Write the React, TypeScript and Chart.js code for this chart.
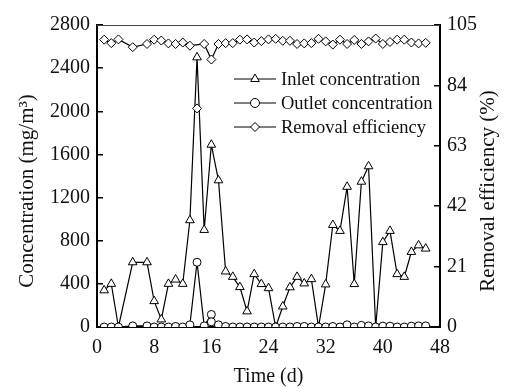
import React, { useEffect, useRef } from 'react';
import { Chart, registerables } from 'chart.js';

Chart.register(...registerables);

const FONT = "'Liberation Serif', 'Times New Roman', serif";

const xTicks = [0, 8, 16, 24, 32, 40, 48];
const concTicks = [0, 400, 800, 1200, 1600, 2000, 2400, 2800];
const effTicks = [0, 21, 42, 63, 84, 105];

const inletDays = [1, 2, 3, 5, 7, 8, 9, 10, 11, 12, 13, 14, 15, 16, 17, 18, 19, 20, 21, 22, 23, 24, 25, 26, 27, 28, 29, 30, 31, 32, 33, 34, 35, 36, 37, 38, 39, 40, 41, 42, 43, 44, 45, 46];
const inletValues = [340, 400, 0, 600, 600, 240, 70, 400, 440, 400, 990, 2500, 900, 1690, 1360, 515, 465, 370, 145, 490, 398, 360, 0, 190, 368, 465, 404, 444, 0, 395, 946, 891, 1300, 398, 1347, 1490, 0, 787, 891, 490, 465, 696, 757, 727];

const outletDays = [1, 2, 3, 5, 7, 8, 9, 10, 11, 12, 13, 14, 15, 16, 16, 17, 18, 19, 20, 21, 22, 23, 24, 25, 26, 27, 28, 29, 30, 31, 32, 33, 34, 35, 36, 37, 38, 39, 40, 41, 42, 43, 44, 45, 46];
const outletValues = [0, 0, 0, 10, 10, 0, 0, 0, 5, 0, 20, 600, 10, 116, 48, 20, 5, 0, 0, 0, 0, 0, 0, 0, 0, 0, 5, 5, 0, 0, 0, 5, 0, 20, 0, 15, 10, 0, 8, 8, 0, 0, 8, 10, 10];

const effDays = [1, 2, 3, 5, 7, 8, 9, 10, 11, 12, 13, 15, 16, 17, 18, 19, 20, 21, 22, 23, 24, 25, 26, 27, 28, 29, 30, 31, 32, 33, 34, 35, 36, 37, 38, 39, 40, 41, 42, 43, 44, 45, 46];
const effValues = [99.9, 98.7, 100, 97.3, 98.4, 99.9, 99.6, 98.6, 98.4, 98.9, 97.8, 98.4, 93.0, 98.4, 98.7, 98.7, 99.9, 100, 98.9, 99.4, 100, 100.2, 99.5, 99.5, 98.4, 98.6, 98.7, 100.2, 99.3, 98.2, 99.9, 98.4, 99.8, 98.4, 99.3, 100.3, 98.4, 99.1, 99.9, 99.9, 98.9, 98.6, 98.8];

const effIsolatedDays = [14];
const effIsolatedValues = [76];

const legendLabels = ['Inlet concentration', 'Outlet concentration', 'Removal efficiency'];
const legendMarkers = ['triangle', 'circle', 'rectRot'];
const xTitle = 'Time (d)';
const leftTitle = 'Concentration (mg/m³)';
const rightTitle = 'Removal efficiency (%)';

function toPoints(xs: number[], ys: number[]) {
  return xs.map((x, i) => ({ x, y: ys[i] }));
}

function drawMarker(ctx: CanvasRenderingContext2D, style: string, x: number, y: number, r: number) {
  ctx.beginPath();
  if (style === 'triangle') {
    for (let k = 0; k < 3; k++) {
      const a = (k * 2 * Math.PI) / 3;
      const px = x + Math.sin(a) * r;
      const py = y - Math.cos(a) * r;
      if (k === 0) ctx.moveTo(px, py);
      else ctx.lineTo(px, py);
    }
    ctx.closePath();
  } else if (style === 'circle') {
    ctx.arc(x, y, r, 0, Math.PI * 2);
  } else {
    ctx.moveTo(x, y - r);
    ctx.lineTo(x + r, y);
    ctx.lineTo(x, y + r);
    ctx.lineTo(x - r, y);
    ctx.closePath();
  }
  ctx.fillStyle = '#fff';
  ctx.fill();
  ctx.strokeStyle = '#000';
  ctx.lineWidth = 1;
  ctx.stroke();
}

function drawVerticalTitle(ctx: CanvasRenderingContext2D, text: string, x: number, y: number) {
  ctx.save();
  ctx.translate(x, y);
  ctx.rotate(-Math.PI / 2);
  ctx.fillStyle = '#111';
  ctx.font = `21px ${FONT}`;
  ctx.textAlign = 'center';
  ctx.textBaseline = 'middle';
  ctx.fillText(text, 0, 0);
  ctx.restore();
}

const framePlugin = {
  id: 'frameAndLegend',
  afterDraw(chart: any) {
    const { ctx, chartArea } = chart;
    ctx.save();
    ctx.strokeStyle = '#444';
    ctx.lineWidth = 1;
    ctx.beginPath();
    ctx.moveTo(chartArea.left, chartArea.top + 0.5);
    ctx.lineTo(chartArea.right, chartArea.top + 0.5);
    ctx.stroke();

    const radii = [5, 4.5, 4.5];
    legendLabels.forEach((label, i) => {
      const y = 79 + i * 24;
      ctx.strokeStyle = '#000';
      ctx.lineWidth = 1.2;
      ctx.beginPath();
      ctx.moveTo(234, y);
      ctx.lineTo(276, y);
      ctx.stroke();
      drawMarker(ctx, legendMarkers[i], 255, y, radii[i]);
      ctx.fillStyle = '#111';
      ctx.font = `18.5px ${FONT}`;
      ctx.textAlign = 'left';
      ctx.textBaseline = 'middle';
      ctx.fillText(label, 281, y + 1);
    });
    ctx.restore();

    const cy = (chartArea.top + chartArea.bottom) / 2 + 15;
    drawVerticalTitle(ctx, leftTitle, 27, cy);
    drawVerticalTitle(ctx, rightTitle, 488, cy);
  },
};

export default function App() {
  const canvasRef = useRef<HTMLCanvasElement | null>(null);

  useEffect(() => {
    document.body.style.margin = '0';
    const canvas = canvasRef.current;
    if (!canvas) return;

    const lineCommon = {
      borderColor: '#000',
      borderWidth: 1.2,
      pointBackgroundColor: '#fff',
      pointBorderColor: '#000',
      pointBorderWidth: 1,
      tension: 0,
      fill: false,
    };

    const tickFont = { family: FONT, size: 20 };

    const chart = new Chart(canvas, {
      type: 'line',
      data: {
        datasets: [
          {
            ...lineCommon,
            label: legendLabels[2],
            data: toPoints(effDays, effValues),
            yAxisID: 'y1',
            pointStyle: 'rectRot',
            pointRadius: 4.5,
          },
          {
            ...lineCommon,
            label: legendLabels[2] + ' (day 14)',
            data: toPoints(effIsolatedDays, effIsolatedValues),
            yAxisID: 'y1',
            showLine: false,
            pointStyle: 'rectRot',
            pointRadius: 4.5,
          },
          {
            ...lineCommon,
            label: legendLabels[1],
            data: toPoints(outletDays, outletValues),
            yAxisID: 'y',
            pointStyle: 'circle',
            pointRadius: 4,
          },
          {
            ...lineCommon,
            label: legendLabels[0],
            data: toPoints(inletDays, inletValues),
            yAxisID: 'y',
            pointStyle: 'triangle',
            pointRadius: 5,
          },
        ],
      },
      options: {
        responsive: false,
        animation: false,
        maintainAspectRatio: false,
        layout: { padding: { top: 20, left: 0, right: 0, bottom: 0 } },
        plugins: {
          legend: { display: false },
          tooltip: { enabled: false },
        },
        scales: {
          x: {
            type: 'linear',
            min: 0,
            max: 48,
            afterBuildTicks: (scale: any) => {
              scale.ticks = xTicks.map((v) => ({ value: v }));
            },
            afterFit: (scale: any) => {
              scale.height = 61;
            },
            ticks: {
              color: '#111',
              font: tickFont,
              padding: 9,
              maxRotation: 0,
              autoSkip: false,
              callback: (v: any) => String(v),
            },
            grid: { display: true, drawOnChartArea: false, drawTicks: false },
            border: { display: true, color: '#000', width: 2 },
            title: {
              display: true,
              text: xTitle,
              color: '#111',
              font: { family: FONT, size: 20 },
              padding: { top: 0, bottom: -1 },
            },
          },
          y: {
            type: 'linear',
            position: 'left',
            min: 0,
            max: 2800,
            afterBuildTicks: (scale: any) => {
              scale.ticks = concTicks.map((v) => ({ value: v }));
            },
            afterFit: (scale: any) => {
              scale.width = 97;
            },
            ticks: {
              color: '#111',
              font: tickFont,
              padding: 13,
              autoSkip: false,
              callback: (v: any) => String(v),
            },
            grid: { display: true, drawOnChartArea: false, drawTicks: true, tickLength: -6, color: '#000', lineWidth: 1.5 },
            border: { display: true, color: '#000', width: 2 },
            title: { display: false },
          },
          y1: {
            type: 'linear',
            position: 'right',
            min: 0,
            max: 105,
            afterBuildTicks: (scale: any) => {
              scale.ticks = effTicks.map((v) => ({ value: v }));
            },
            afterFit: (scale: any) => {
              scale.width = 65;
            },
            ticks: {
              color: '#111',
              font: tickFont,
              padding: 13,
              autoSkip: false,
              callback: (v: any) => String(v),
            },
            grid: { display: true, drawOnChartArea: false, drawTicks: true, tickLength: -6, color: '#000', lineWidth: 1.5 },
            border: { display: true, color: '#000', width: 2 },
            title: { display: false },
          },
        },
      },
      plugins: [framePlugin],
    } as any);

    return () => {
      chart.destroy();
    };
  }, []);

  return (
    <canvas
      ref={canvasRef}
      width={505}
      height={388}
      style={{ display: 'block', width: 505, height: 388 }}
    />
  );
}
